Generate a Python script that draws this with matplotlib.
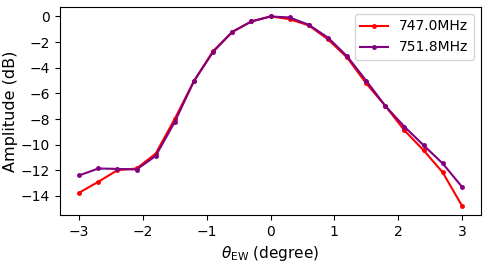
import matplotlib
matplotlib.use("Agg")
import matplotlib.pyplot as plt

theta = [-3.0, -2.7, -2.4, -2.1, -1.8, -1.5, -1.2, -0.9, -0.6, -0.3, 0.0,
         0.3, 0.6, 0.9, 1.2, 1.5, 1.8, 2.1, 2.4, 2.7, 3.0]
amp_747 = [-13.75, -12.9, -11.99, -11.86, -10.7, -7.98, -5.04, -2.71, -1.21, -0.39, 0.0,
           -0.21, -0.7, -1.78, -3.2, -5.22, -6.98, -8.89, -10.44, -12.17, -14.75]
amp_751 = [-12.40, -11.86, -11.89, -11.94, -10.88, -8.22, -5.04, -2.76, -1.21, -0.39, 0.0,
           -0.08, -0.65, -1.65, -3.1, -5.01, -6.98, -8.6, -10.05, -11.47, -13.28]
labels = ["747.0MHz", "751.8MHz"]

plt.rcParams["font.size"] = 10
fig = plt.figure(figsize=(4.88, 2.63), dpi=100)
ax = fig.add_axes([60/488, 1 - 215/263, (481-60)/488, (215-7)/263])
ax.plot(theta, amp_747, color="red", marker="o", markersize=2.5, label=labels[0])
ax.plot(theta, amp_751, color="purple", marker="o", markersize=2.5, label=labels[1])
ax.set_xlabel(r"$\theta_{\rm EW}$ (degree)", fontsize=11)
ax.set_ylabel("Amplitude (dB)", fontsize=11.5, labelpad=2)
ax.set_yticks([0, -2, -4, -6, -8, -10, -12, -14])
ax.tick_params(labelsize=10)
ax.legend(loc="upper right", fontsize=10)
fig.savefig("out.png", dpi=100)
